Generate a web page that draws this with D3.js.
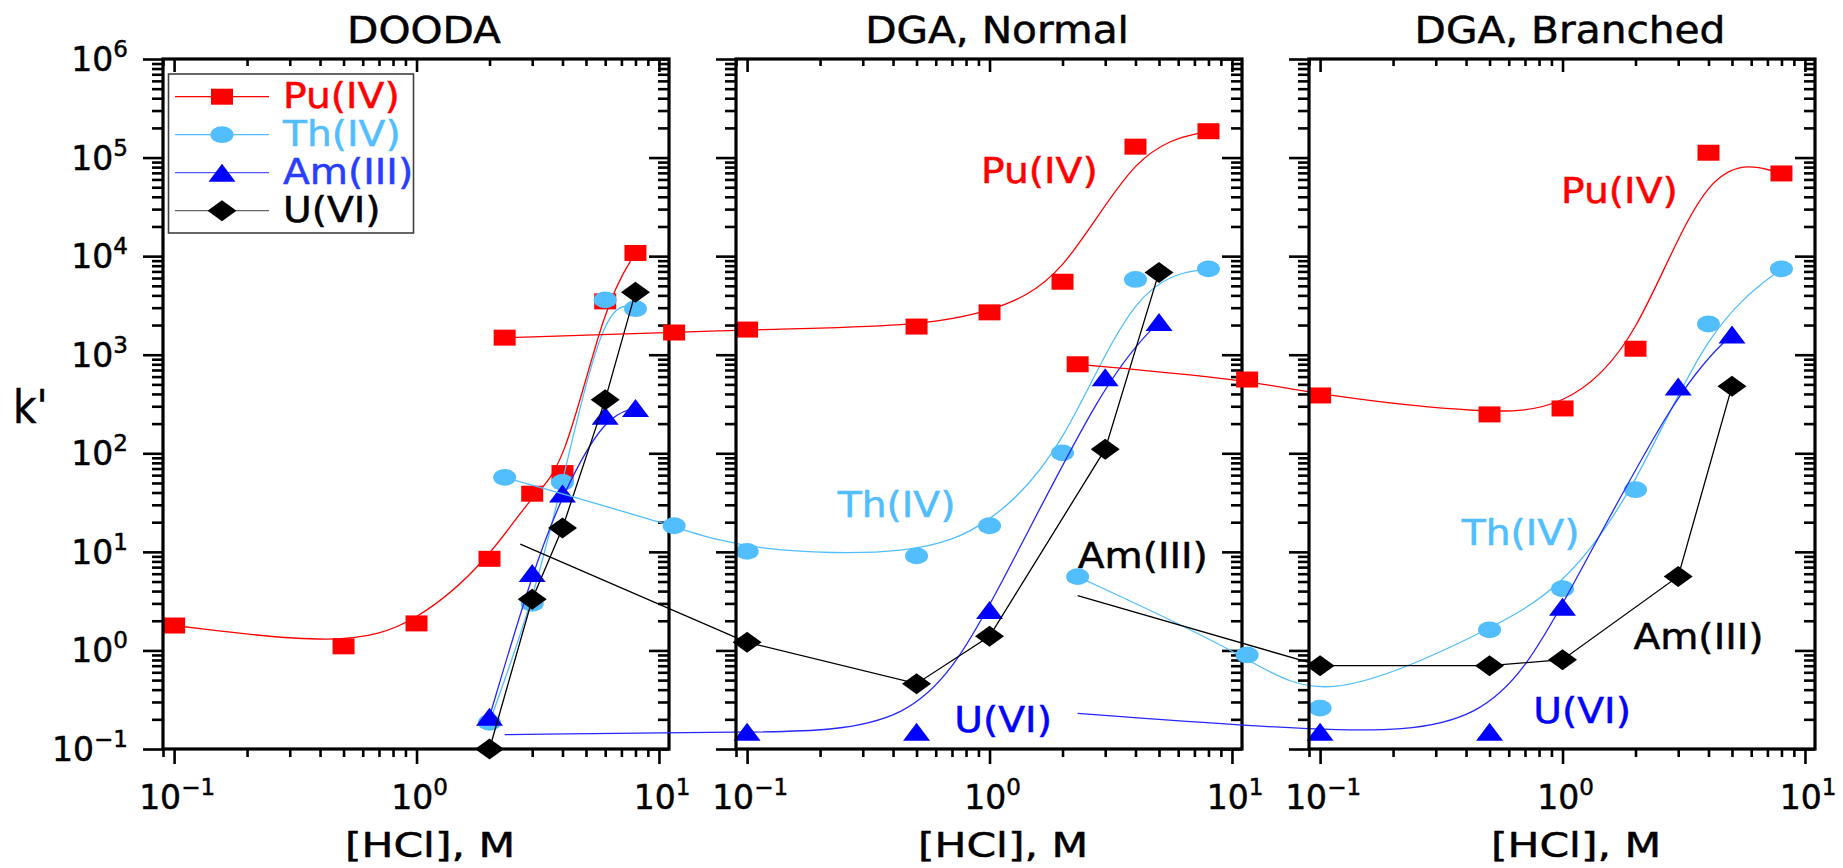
<!DOCTYPE html>
<html>
<head>
<meta charset="utf-8">
<script src="https://cdn.jsdelivr.net/npm/d3@7"></script>
<style>
  body { margin: 0; background: #fff; }
  svg { display: block; }
  text { font-family: "DejaVu Sans", sans-serif; }
</style>
</head>
<body>
<svg id="chart" width="1843" height="868"></svg>
<script>
// ---- data ----
const panelTitles = ["DOODA", "DGA, Normal", "DGA, Branched"];
const ionNames = ["Pu(IV)", "Th(IV)", "Am(III)", "U(VI)"];
const yTickExps = [-1, 0, 1, 2, 3, 4, 5, 6];
const xTickExps = [-1, 0, 1];

// DOODA, [HCl] M -> k'
const doodaPu = [[0.1, 1.79], [0.5, 1.10], [1, 1.88], [2, 8.5], [3, 38.9], [4, 63], [6, 3475], [8, 10770]];
const doodaTh = [[2, 0.186], [3, 3.0], [4, 50.7], [6, 3600], [8, 2930]];
const doodaAm = [[2, 0.213], [3, 6.1], [4, 39], [6, 240], [8, 288]];
const doodaU = [[2, 0.1], [3, 3.3], [4, 17.5], [6, 350], [8, 4290]];

// DGA normal (lead points fall left of the frame, the original plot is not clipped)
const normalPuLead = [[0.01, 1490], [0.05, 1680]];
const normalPu = [[0.1, 1800], [0.5, 1930], [1, 2690], [2, 5500], [4, 1.29e5], [8, 1.85e5]];
const normalThLead = [[0.01, 57], [0.05, 18.4]];
const normalTh = [[0.1, 10.1], [0.5, 9.1], [1, 18.4], [2, 101], [4, 5800], [8, 7430]];
const normalAmLead = [[0.01, 0.14]];
const normalAm = [[0.1, 0.15], [0.5, 0.15], [1, 2.57], [3, 590], [5, 2150]];
const normalULead = [[0.0116, 12]];
const normalU = [[0.1, 1.21], [0.5, 0.46], [1, 1.39], [3, 110], [5, 6840]];

// DGA branched
const branchedPuLead = [[0.01, 800], [0.05, 560]];
const branchedPu = [[0.1, 386], [0.5, 248], [1, 285], [2, 1150], [4, 1.12e5], [8, 6.9e4]];
const branchedThLead = [[0.01, 5.6], [0.05, 0.9]];
const branchedTh = [[0.1, 0.26], [0.5, 1.62], [1, 4.23], [2, 42.7], [4, 2050], [8, 7430]];
const branchedAmLead = [[0.01, 0.23]];
const branchedAm = [[0.1, 0.15], [0.5, 0.15], [1, 2.78], [3, 477], [5, 1600]];
const branchedULead = [[0.01, 3.6]];
const branchedU = [[0.1, 0.70], [0.5, 0.70], [1, 0.805], [3, 5.63], [5, 478]];

// in-plot labels, in data units ([HCl], k')
const normalLabelAt = [[0.922, 5.5e4], [0.2365, 22.8], [2.31, 6.8], [0.716, 0.15]];
const branchedLabelAt = [[0.986, 3.46e4], [0.384, 11.7], [1.96, 1.03], [0.758, 0.182]];

// ---- styles ----
const ionStyle = [
  { color: "#ff0000", line: "#ff0000", legendLine: "#ff0000", text: "#ff0000", shape: "square", curve: d3.curveBasis },
  { color: "#52befe", line: "#52befe", legendLine: "#52befe", text: "#52befe", shape: "circle", curve: d3.curveBasis },
  { color: "#0000ff", line: "#2626ff", legendLine: "#5858ff", text: "#2a3dff", shape: "triangle", curve: d3.curveBasis },
  { color: "#000000", line: "#000000", legendLine: "#666666", text: "#000000", shape: "diamond", curve: d3.curveLinear }
];
const labelColors = ["#ff0000", "#52befe", "#000000", "#0000ff"]; // as in the original figure

const series = [
  { panel: 0, ion: 0, lead: [], pts: doodaPu },
  { panel: 0, ion: 1, lead: [], pts: doodaTh },
  { panel: 0, ion: 2, lead: [], pts: doodaAm },
  { panel: 0, ion: 3, lead: [], pts: doodaU },
  { panel: 1, ion: 0, lead: normalPuLead, pts: normalPu, markLead: true },
  { panel: 1, ion: 1, lead: normalThLead, pts: normalTh, markLead: true },
  { panel: 1, ion: 2, lead: normalAmLead, pts: normalAm },
  { panel: 1, ion: 3, lead: normalULead, pts: normalU },
  { panel: 2, ion: 0, lead: branchedPuLead, pts: branchedPu, markLead: true },
  { panel: 2, ion: 1, lead: branchedThLead, pts: branchedTh, markLead: true },
  { panel: 2, ion: 2, lead: branchedAmLead, pts: branchedAm },
  { panel: 2, ion: 3, lead: branchedULead, pts: branchedU }
];
const panelLabels = [null, normalLabelAt, branchedLabelAt];

// ---- layout ----
const plotTop = 59, plotBottom = 749;
const firstLeft = 163, plotWidth = 506, panelStep = 573;
const lineW = 1.3;

const svg = d3.select("#chart");

const y = d3.scaleLog().domain([0.1, 1e6]).range([plotBottom, plotTop]);

const yMajor = yTickExps.map(e => Math.pow(10, e));
const yMinor = [];
yTickExps.slice(0, -1).forEach(e => {
  for (let m = 2; m <= 9; m++) yMinor.push(m * Math.pow(10, e));
});
const xMajor = xTickExps.map(e => Math.pow(10, e));
const xMinor = [0.09];
[-1, 0].forEach(e => {
  for (let m = 2; m <= 9; m++) xMinor.push(m * Math.pow(10, e));
});

function markerPath(shape) {
  if (shape === "square") {
    var w = 22, h = 16;
    return `M${-w / 2},${-h / 2}h${w}v${h}h${-w}Z`;
  }
  if (shape === "circle") {
    var rx = 11.5, ry = 8.4;
    return `M${-rx},0a${rx},${ry} 0 1,0 ${2 * rx},0a${rx},${ry} 0 1,0 ${-2 * rx},0Z`;
  }
  if (shape === "triangle") {
    var w = 27, h = 18;
    return `M0,${-h / 2}L${w / 2},${h / 2}L${-w / 2},${h / 2}Z`;
  }
  var w = 29, h = 21;
  return `M0,${-h / 2}L${w / 2},0L0,${h / 2}L${-w / 2},0Z`;
}

function styleAxis(g, width) {
  g.select(".domain").remove();
  g.selectAll("line").attr("stroke-width", width);
}

// the original text is a little wider and heavier than DejaVu, hence scale + thin outline
function stretchedText(parent, txt, px, py, size, sx, color, anchor) {
  return parent.append("text")
    .attr("transform", `translate(${px},${py}) scale(${sx},1)`)
    .attr("text-anchor", anchor || "start")
    .attr("font-size", size)
    .attr("fill", color || "#000")
    .attr("stroke", color || "#000")
    .attr("stroke-width", 0.5)
    .text(txt);
}

function expLabel(sel, e) {
  sel.attr("stroke", "#000").attr("stroke-width", 0.5);
  sel.append("tspan").attr("font-size", 33).text("10");
  sel.append("tspan").attr("font-size", 23).attr("dy", -14)
    .text(e < 0 ? "\u2212" + (-e) : String(e));
}

panelTitles.forEach((title, p) => {
  const left = firstLeft + p * panelStep;
  const x = d3.scaleLog().domain([0.09, 11]).range([left, left + plotWidth]);
  const g = svg.append("g").attr("class", "panel");

  // data
  series.filter(s => s.panel === p).forEach(s => {
    const st = ionStyle[s.ion];
    const line = d3.line().x(d => x(d[0])).y(d => y(d[1])).curve(st.curve);
    g.append("path")
      .attr("d", line(s.lead.concat(s.pts)))
      .attr("fill", "none")
      .attr("stroke", st.line)
      .attr("stroke-width", lineW);
    const marked = s.markLead ? s.lead.concat(s.pts) : s.pts;
    g.selectAll(null).data(marked).join("path")
      .attr("transform", d => `translate(${x(d[0])},${y(d[1])})`)
      .attr("d", markerPath(st.shape))
      .attr("fill", st.color);
  });

  // in-plot labels
  if (panelLabels[p]) {
    panelLabels[p].forEach((pos, i) => {
      stretchedText(g, ionNames[i], x(pos[0]), y(pos[1]), 35, 1.12, labelColors[i]);
    });
  }

  // axes: left/bottom outward, top/right inward
  g.append("g").attr("transform", `translate(${left},0)`)
    .call(d3.axisLeft(y).tickValues(yMinor).tickSize(11).tickFormat(""))
    .call(a => styleAxis(a, 2.6));
  g.append("g").attr("transform", `translate(${left},0)`)
    .call(d3.axisLeft(y).tickValues(yMajor).tickSize(20).tickFormat(""))
    .call(a => styleAxis(a, 2.6));
  g.append("g").attr("transform", `translate(${left + plotWidth},0)`)
    .call(d3.axisLeft(y).tickValues(yMinor).tickSize(11).tickFormat(""))
    .call(a => styleAxis(a, 2.6));
  g.append("g").attr("transform", `translate(${left + plotWidth},0)`)
    .call(d3.axisLeft(y).tickValues(yMajor).tickSize(20).tickFormat(""))
    .call(a => styleAxis(a, 2.6));
  g.append("g").attr("transform", `translate(0,${plotBottom})`)
    .call(d3.axisBottom(x).tickValues(xMinor).tickSize(8).tickFormat(""))
    .call(a => styleAxis(a, 2.6));
  g.append("g").attr("transform", `translate(0,${plotBottom})`)
    .call(d3.axisBottom(x).tickValues(xMajor).tickSize(15).tickFormat(""))
    .call(a => styleAxis(a, 2.6));
  g.append("g").attr("transform", `translate(0,${plotTop})`)
    .call(d3.axisBottom(x).tickValues(xMinor).tickSize(7).tickFormat(""))
    .call(a => styleAxis(a, 2.6));
  g.append("g").attr("transform", `translate(0,${plotTop})`)
    .call(d3.axisBottom(x).tickValues(xMajor).tickSize(13).tickFormat(""))
    .call(a => styleAxis(a, 2.6));

  g.append("rect")
    .attr("x", left).attr("y", plotTop)
    .attr("width", plotWidth).attr("height", plotBottom - plotTop)
    .attr("fill", "none").attr("stroke", "#000").attr("stroke-width", 3.2);

  // x tick labels
  g.selectAll(null).data(xTickExps).join("text")
    .attr("x", d => x(Math.pow(10, d)) + 3)
    .attr("y", plotBottom + 60)
    .attr("text-anchor", "middle")
    .each(function (d) { expLabel(d3.select(this), d); });

  // y tick labels only on the first panel
  if (p === 0) {
    g.selectAll(null).data(yTickExps).join("text")
      .attr("x", left - 35)
      .attr("y", d => y(Math.pow(10, d)) + 12)
      .attr("text-anchor", "end")
      .each(function (d) { expLabel(d3.select(this), d); });
  }

  stretchedText(g, title, left + plotWidth / 2 + 8, 43, 37, 1.1, "#000", "middle");
  stretchedText(g, "[HCl], M", left + plotWidth / 2 + 14, 857, 34, 1.25, "#000", "middle");
});

stretchedText(svg, "k'", 13, 423, 46, 0.88, "#000", "start");

// legend
const legend = svg.append("g");
legend.append("rect")
  .attr("x", 168.5).attr("y", 74)
  .attr("width", 245).attr("height", 159)
  .attr("fill", "#fff").attr("stroke", "#404040").attr("stroke-width", 1.6);
ionNames.forEach((name, i) => {
  const st = ionStyle[i];
  const ry = 96.7 + i * 38;
  legend.append("line")
    .attr("x1", 175).attr("x2", 269).attr("y1", ry).attr("y2", ry)
    .attr("stroke", st.legendLine).attr("stroke-width", lineW);
  legend.append("path")
    .attr("transform", `translate(222,${ry})`)
    .attr("d", markerPath(st.shape))
    .attr("fill", st.color);
  stretchedText(legend, name, 283, ry + 11, 35, 1.12, st.text);
});
</script>
</body>
</html>
